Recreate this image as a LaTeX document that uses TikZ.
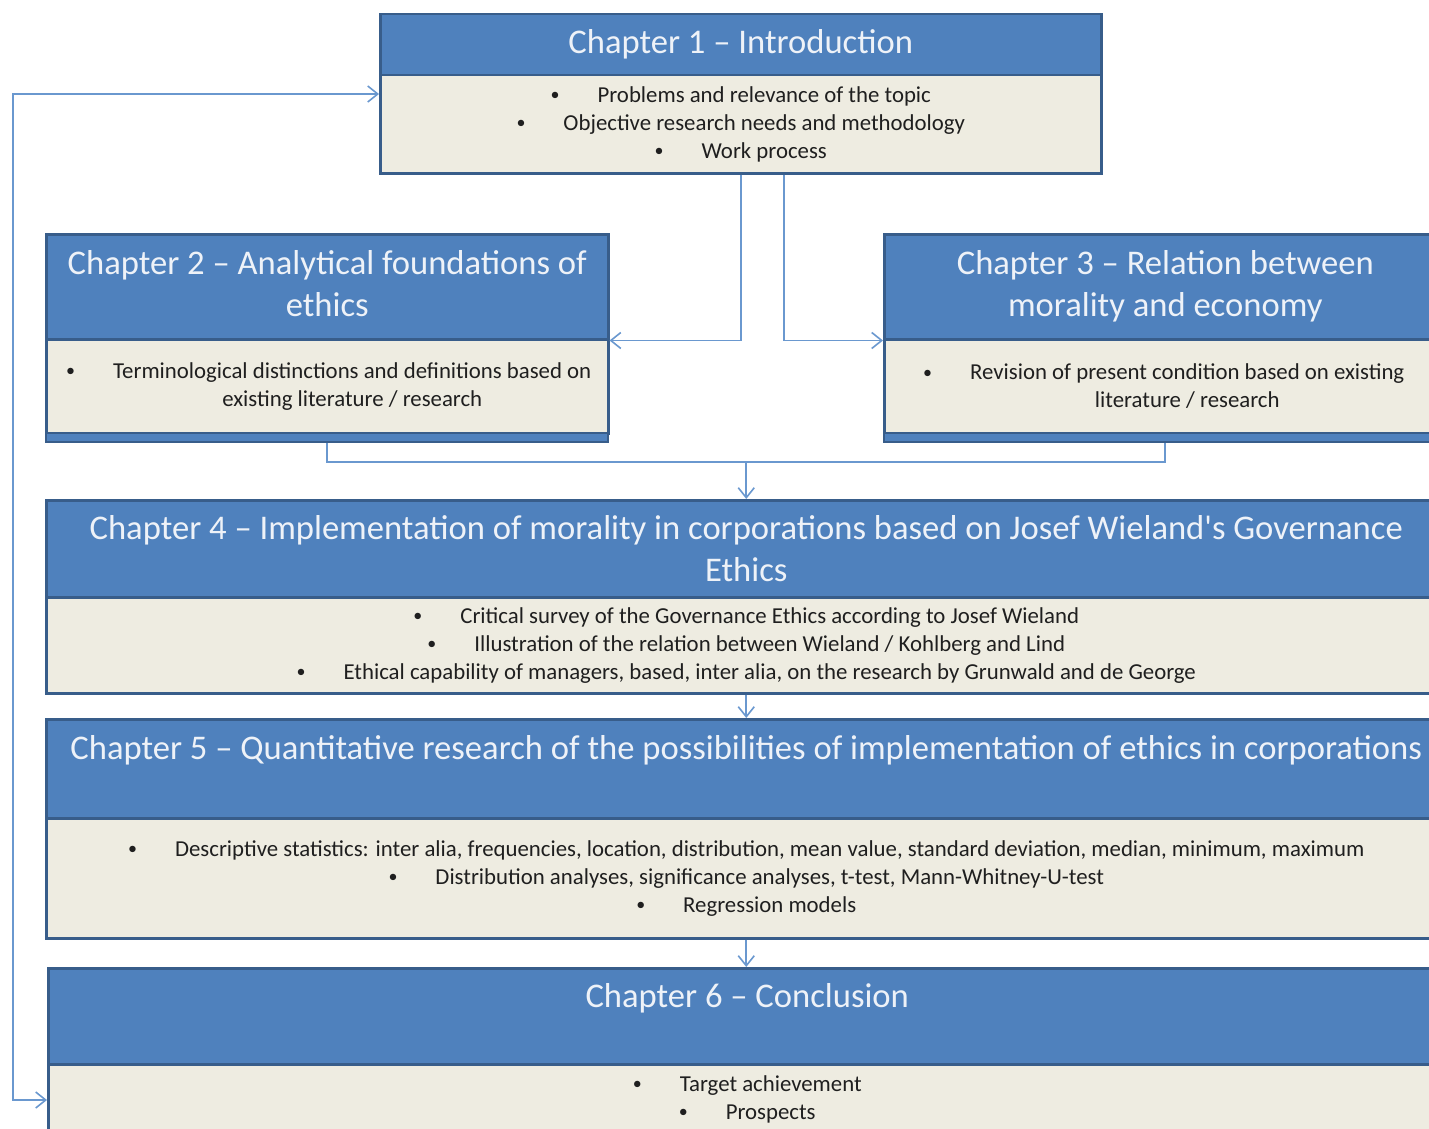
\documentclass[tikz,border=0pt]{standalone}
\usepackage{fontspec}
\setmainfont{Carlito}
\usetikzlibrary{arrows.meta}

\definecolor{hdrblue}{HTML}{4F81BD}
\definecolor{edgeblue}{HTML}{385D8A}
\definecolor{bodybeige}{HTML}{EEECE1}
\definecolor{linkblue}{HTML}{6A98CF}
\definecolor{titlewhite}{HTML}{EEF2F8}

\newcommand{\titlefont}{\fontsize{34.6}{42}\selectfont}
\newcommand{\itemfont}{\fontsize{22.8}{28}\selectfont}
\newcommand{\dotmark}{\raisebox{1.5pt}{\fontsize{18}{18}\selectfont\textbullet}}
\newcommand{\bul}{\dotmark\hspace{38pt}}
\newcommand{\hangbul}{\llap{\dotmark\hspace{38pt}}}

\tikzset{
    chaphead/.style={draw=edgeblue, line width=2.5pt, fill=hdrblue, text=titlewhite,
        font=\titlefont, align=center, anchor=north west, inner sep=0pt},
    chapbody/.style={draw=edgeblue, line width=2.5pt, fill=bodybeige, text=black!88,
        font=\itemfont, align=center, anchor=north west, inner sep=0pt},
    chapband/.style={draw=edgeblue, line width=2pt, fill=hdrblue, anchor=north west,
        inner sep=0pt, minimum height=9pt},
    itemtext/.style={text=black!88, font=\itemfont, align=center, inner sep=0pt},
    link/.style={draw=linkblue, line width=1.6pt},
    arrowed/.style={-{Straight Barb[length=10pt,width=16pt]}},
    arrowedboth/.style={{Straight Barb[length=10pt,width=16pt]}-{Straight Barb[length=10pt,width=16pt]}}
}

\begin{document}
\begin{tikzpicture}[x=1pt, y=-1pt]
    \useasboundingbox (0,0) rectangle (1429,1129);
    \clip (0,0) rectangle (1429,1129);

    % Chapter 1.
    \node[chapbody, minimum width=721pt, minimum height=98pt] (c1b) at (379,74)
        {\bul Problems and relevance of the topic\\
         \bul Objective research needs and methodology\\
         \bul Work process};
    \node[chaphead, minimum width=721pt, minimum height=61pt] (c1h) at (379,13)
        {Chapter 1 – Introduction};

    % Chapter 2.
    \node[chapbody, minimum width=562pt, minimum height=94pt] (c2b) at (45,338) {};
    \node[itemtext] (c2t) at ([xshift=25pt]c2b.center)
        {\hangbul Terminological distinctions and definitions based on\\
         existing literature / research};
    \node[chaphead, minimum width=562pt, minimum height=105pt] (c2h) at (45,233)
        {Chapter 2 – Analytical foundations of\\ ethics\vphantom{y}};
    \node[chapband, minimum width=562pt] (c2x) at (45,432) {};

    % Chapter 3.
    \node[chapbody, minimum width=562pt, minimum height=94pt] (c3b) at (883,338) {};
    \node[itemtext] (c3t) at ([xshift=22pt]c3b.center)
        {\hangbul Revision of present condition based on existing\\
         literature / research};
    \node[chaphead, minimum width=562pt, minimum height=105pt] (c3h) at (883,233)
        {Chapter 3 – Relation between\\ morality and economy};
    \node[chapband, minimum width=562pt] (c3x) at (883,432) {};

    % Chapter 4.
    \node[chapbody, minimum width=1400pt, minimum height=96pt] (c4b) at (45,596)
        {\bul Critical survey of the Governance Ethics according to Josef Wieland\\
         \bul Illustration of the relation between Wieland / Kohlberg and Lind\\
         \bul Ethical capability of managers, based, inter alia, on the research by Grunwald and de George};
    \node[chaphead, minimum width=1400pt, minimum height=97pt] (c4h) at (45,499)
        {Chapter 4 – Implementation of morality in corporations based on Josef Wieland\textquotesingle s Governance\\ Ethics};

    % Chapter 5.
    \node[chapbody, minimum width=1400pt, minimum height=120pt] (c5b) at (45,817)
        {\bul Descriptive statistics: inter alia, frequencies, location, distribution, mean value, standard deviation, median, minimum, maximum\\
         \bul Distribution analyses, significance analyses, t-test, Mann-Whitney-U-test\\
         \bul Regression models};
    \node[chaphead, minimum width=1400pt, minimum height=99pt] (c5h) at (45,718)
        {Chapter 5 – Quantitative research of the possibilities of implementation of ethics in corporations\\ \mbox{}};

    % Chapter 6.
    \node[chapbody, minimum width=1398pt, minimum height=70pt] (c6b) at (47,1063)
        {\bul Target achievement\\
         \bul Prospects};
    \node[chaphead, minimum width=1398pt, minimum height=96pt] (c6h) at (47,967)
        {Chapter 6 – Conclusion\\ \mbox{}};

    % Arrows from chapter 1 to chapters 2 and 3.
    \draw[link, arrowed] (c1b.south) |- (c2h.south east);
    \draw[link, arrowed] ([xshift=43pt]c1b.south) |- (c3h.south west);

    % Chapters 2 and 3 join into chapter 4.
    \coordinate (merge) at ([yshift=37pt]c4h.north);
    \draw[link] (c2x.south) |- (merge) -| (c3x.south);
    \draw[link, arrowed] (merge) -- (c4h.north);

    % Down the chain.
    \draw[link, arrowed] (c4b.south) -- (c5h.north);
    \draw[link, arrowed] (c5b.south) -- (c5b.south |- c6h.north);

    % Loop back between introduction and conclusion.
    \coordinate (backtop) at (13,94);
    \coordinate (backbot) at (13,1100);
    \draw[link, arrowedboth] (c1b.west |- backtop) -- (backtop) -- (backbot) -- (c6b.west |- backbot);
\end{tikzpicture}
\end{document}
